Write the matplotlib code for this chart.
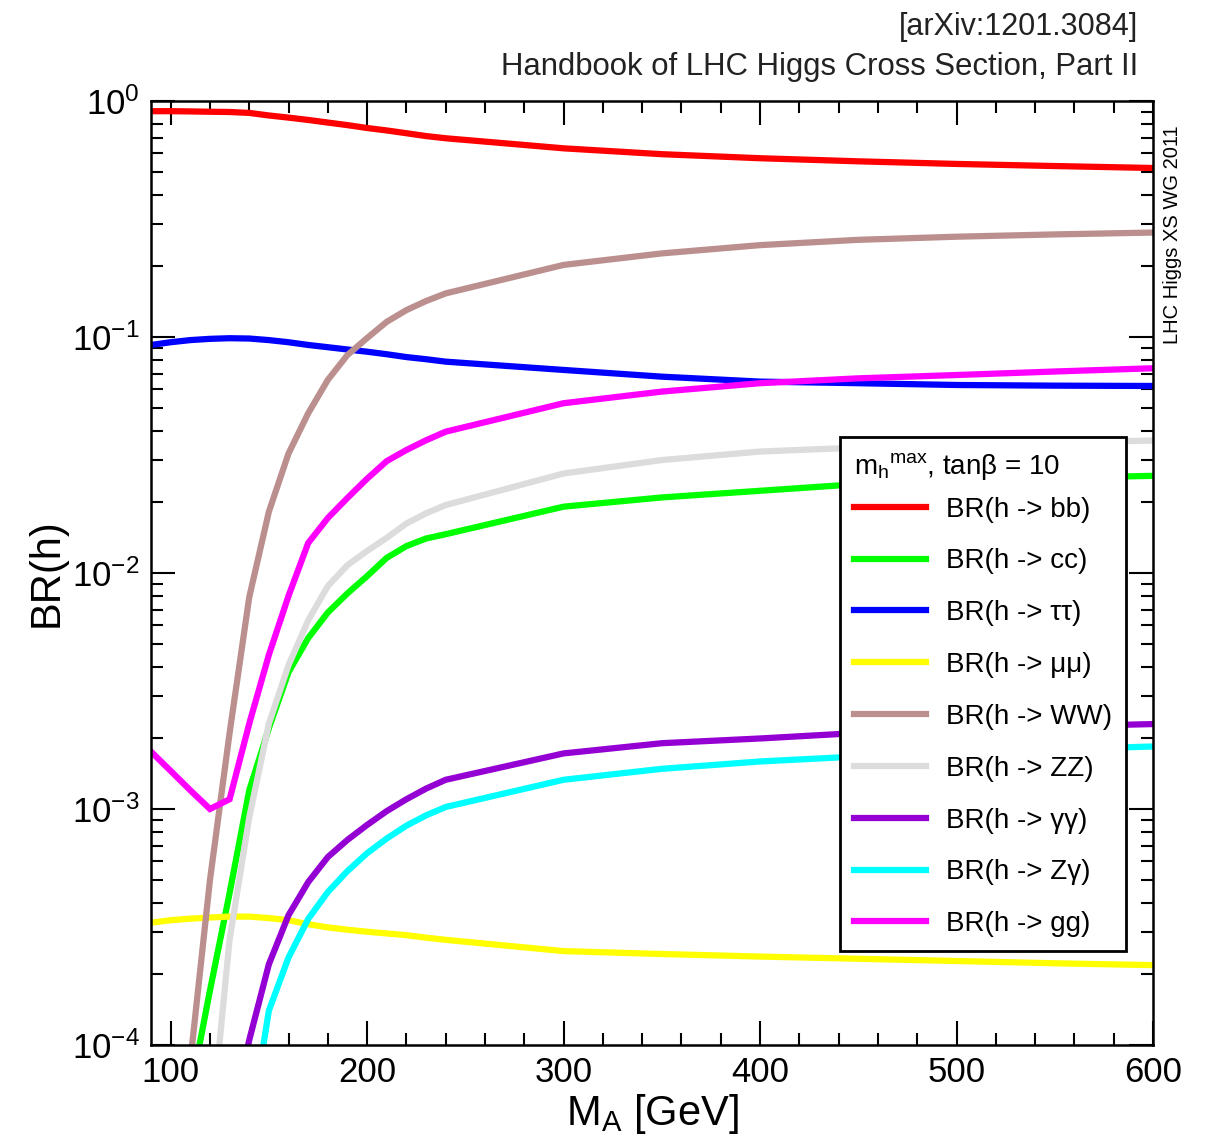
import numpy as np
import matplotlib
matplotlib.use("Agg")
import matplotlib.pyplot as plt
from matplotlib.ticker import MultipleLocator, LogLocator, FuncFormatter, NullFormatter

plt.rcParams['font.family'] = ['Liberation Sans', 'DejaVu Sans']
plt.rcParams['mathtext.fontset'] = 'custom'
plt.rcParams['mathtext.rm'] = 'Liberation Sans'
plt.rcParams['mathtext.it'] = 'Liberation Sans'

# M_A grid [GeV]
mA = [90, 100, 110, 120, 130, 140, 150, 160, 170, 180, 190, 200, 210, 220,
      230, 240, 300, 350, 400, 450, 500, 550, 600]

br_bb = [0.905, 0.905, 0.903, 0.900, 0.898, 0.890, 0.868, 0.850, 0.831, 0.810,
         0.790, 0.768, 0.750, 0.730, 0.710, 0.695, 0.630, 0.595, 0.572, 0.555,
         0.541, 0.530, 0.520]
br_cc = [5e-6, 2e-5, 6.3e-5, 1.7e-4, 4.4e-4, 1.2e-3, 2.2e-3, 3.8e-3, 5.3e-3,
         6.8e-3, 8.2e-3, 9.7e-3, 0.0116, 0.0130, 0.0140, 0.0146, 0.0191, 0.0209,
         0.0223, 0.0238, 0.0248, 0.0253, 0.0258]
br_tautau = [0.0925, 0.0950, 0.0970, 0.0982, 0.0988, 0.0985, 0.0970, 0.0950,
             0.0925, 0.0905, 0.0885, 0.0866, 0.0845, 0.0822, 0.0805, 0.0786,
             0.0725, 0.0679, 0.0647, 0.0637, 0.0626, 0.0622, 0.0620]
br_mumu = [3.30e-4, 3.38e-4, 3.43e-4, 3.47e-4, 3.50e-4, 3.50e-4, 3.45e-4,
           3.38e-4, 3.25e-4, 3.15e-4, 3.08e-4, 3.02e-4, 2.97e-4, 2.92e-4,
           2.85e-4, 2.79e-4, 2.50e-4, 2.43e-4, 2.37e-4, 2.32e-4, 2.27e-4,
           2.22e-4, 2.18e-4]
br_ww = [3e-6, 1.5e-5, 8.5e-5, 5.0e-4, 2.1e-3, 7.9e-3, 0.0182, 0.0321, 0.0475,
         0.0658, 0.0839, 0.099, 0.116, 0.130, 0.142, 0.153, 0.202, 0.226, 0.245,
         0.258, 0.266, 0.272, 0.277]
br_zz = [1e-6, 3e-6, 1e-5, 3.9e-5, 2.8e-4, 9.2e-4, 2.3e-3, 4.07e-3, 6.3e-3,
         8.8e-3, 0.0108, 0.0124, 0.0141, 0.0162, 0.0179, 0.0194, 0.0264, 0.0301,
         0.0327, 0.0340, 0.0349, 0.0357, 0.0364]
br_gaga = [1e-6, 2e-6, 5e-6, 1.5e-5, 4.4e-5, 1.05e-4, 2.2e-4, 3.55e-4, 4.9e-4,
           6.26e-4, 7.4e-4, 8.56e-4, 9.8e-4, 1.1e-3, 1.22e-3, 1.33e-3, 1.72e-3,
           1.9e-3, 1.99e-3, 2.1e-3, 2.18e-3, 2.24e-3, 2.29e-3]
br_zga = [1e-7, 5e-7, 2e-6, 6e-6, 1.5e-5, 4.2e-5, 1.4e-4, 2.35e-4, 3.42e-4,
          4.45e-4, 5.46e-4, 6.5e-4, 7.5e-4, 8.5e-4, 9.4e-4, 1.02e-3, 1.33e-3,
          1.48e-3, 1.59e-3, 1.67e-3, 1.73e-3, 1.79e-3, 1.84e-3]
br_gg = [1.75e-3, 1.45e-3, 1.2e-3, 1.0e-3, 1.1e-3, 2.3e-3, 4.5e-3, 8.0e-3,
         0.0134, 0.0171, 0.0208, 0.0251, 0.0298, 0.0332, 0.0365, 0.0397, 0.0524,
         0.0587, 0.0637, 0.0668, 0.0690, 0.0714, 0.0737]

channels = [
    (br_bb, '#ff0000', 'BR(h -> bb)'),
    (br_cc, '#00ff00', 'BR(h -> cc)'),
    (br_tautau, '#0000ff', 'BR(h -> ττ)'),
    (br_mumu, '#ffff00', 'BR(h -> μμ)'),
    (br_ww, '#bc8f8f', 'BR(h -> WW)'),
    (br_zz, '#dcdcdc', 'BR(h -> ZZ)'),
    (br_gaga, '#9400d3', 'BR(h -> γγ)'),
    (br_zga, '#00ffff', 'BR(h -> Zγ)'),
    (br_gg, '#ff00ff', 'BR(h -> gg)'),
]

fig = plt.figure(figsize=(12.11, 11.37), dpi=100)
ax = fig.add_axes([0.1247, 0.0809, 0.8274, 0.8303])

for vals, col, lab in channels:
    ax.plot(mA, vals, color=col, lw=4.5, label=lab, solid_joinstyle='miter')

ax.set_yscale('log')
ax.set_xlim(90, 600)
ax.set_ylim(1e-4, 1)

ax.xaxis.set_major_locator(MultipleLocator(100))
ax.xaxis.set_minor_locator(MultipleLocator(20))
ax.yaxis.set_major_locator(LogLocator(base=10))
ax.yaxis.set_minor_locator(LogLocator(base=10, subs=np.arange(2, 10)))
ax.yaxis.set_major_formatter(FuncFormatter(lambda v, p: r'$\mathregular{10^{%d}}$' % round(np.log10(v))))
ax.yaxis.set_minor_formatter(NullFormatter())

ax.tick_params(which='both', direction='in', top=True, right=True, width=1.5,
               labelsize=25, colors='black')
ax.tick_params(which='major', length=17, pad=8)
ax.tick_params(which='minor', length=8.5)
for sp in ax.spines.values():
    sp.set_linewidth(1.8)

ax.set_xlabel(r'$\mathregular{M_A}$ [GeV]', fontsize=30, labelpad=2)
ax.set_ylabel('BR(h)', fontsize=30, labelpad=4)

leg = ax.legend(loc='upper left', bbox_to_anchor=(0.688, 0.644), fontsize=20,
                title=r'$\mathregular{m_h{}^{max}}$, tanβ = 10', title_fontsize=20,
                alignment='left', fancybox=False, framealpha=1, edgecolor='black',
                handlelength=2.6, handletextpad=0.7, labelspacing=0.93,
                borderpad=0.5, borderaxespad=0)
leg.get_frame().set_linewidth(2)
# tighter gap between the legend title and the first entry
leg._legend_box.sep = 10.5

fig.text(0.9397, 0.976, '[arXiv:1201.3084]', ha='right', va='center', fontsize=22, color='#222222')
fig.text(0.9397, 0.941, 'Handbook of LHC Higgs Cross Section, Part II', ha='right', va='center',
         fontsize=22.4, color='#222222')
fig.text(0.968, 0.89, 'LHC Higgs XS WG 2011', rotation=90, ha='center', va='top', fontsize=14.5)

fig.savefig('out.png', dpi=100)
